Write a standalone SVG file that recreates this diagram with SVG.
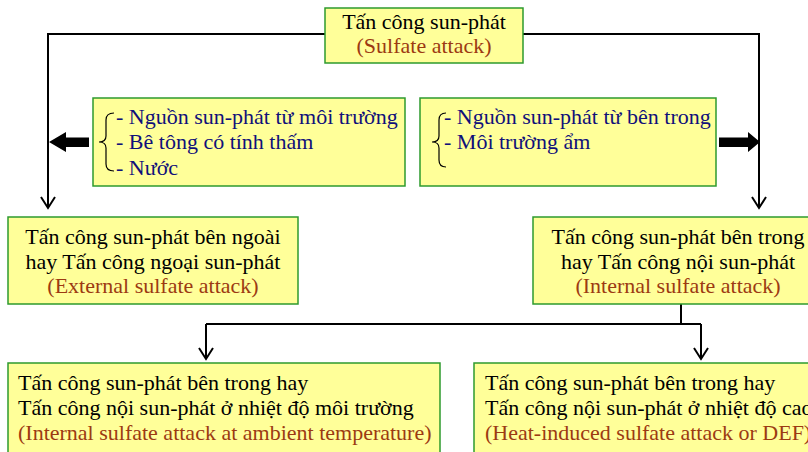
<svg xmlns="http://www.w3.org/2000/svg" width="808" height="452" viewBox="0 0 808 452">
<defs>
<style>
.box{fill:#FFFF99;stroke:#2E9A2E;stroke-width:1.5}
.t{font-family:"Liberation Serif","Times New Roman",serif;font-size:22px;fill:#000}
.c{text-anchor:middle}
.e{fill:#9C3A12}
.n{fill:#10107A}
.ln{fill:none;stroke:#000;stroke-width:2}
.br{fill:none;stroke:#000;stroke-width:1.2}
</style>
</defs>
<rect width="808" height="452" fill="#fff"/>
<g id="connectors">
<polyline class="ln" points="325,34 48,34 48,208"/>
<polyline class="ln" points="523,34 759,34 759,208"/>
<polyline class="ln" points="681,304 681,324"/>
<polyline class="ln" points="701,324 206,324"/>
<path class="ln" d="M206,324 V359 M701,324 V359"/>
<path d="M199,348 L206,359 L213,348 M694,348 L701,359 L708,348 M41,197 L48,208 L55,197 M752,197 L759,208 L766,197" fill="none" stroke="#000" stroke-width="2"/>
<polygon points="49,142 66,132 66,137.5 89,137.5 89,147 66,147 66,152" fill="#000"/>
<polygon points="760,142 748,132 748,137.5 719,137.5 719,147 748,147 748,152" fill="#000"/>
</g>
<g id="top">
<rect class="box" x="325" y="8" width="198" height="55"/>
<text class="t c" x="424" y="29">Tấn công sun-phát</text>
<text class="t c e" x="424" y="53">(Sulfate attack)</text>
</g>
<g id="ext-causes">
<rect class="box" x="93" y="98" width="312" height="88"/>
<path class="br" d="M114,113 Q106,113 106,120 V136 Q106,142 99,142 Q106,142 106,148 V164 Q106,171 114,171"/>
<text class="t n" x="116" y="124">- Nguồn sun-phát từ môi trường</text>
<text class="t n" x="116" y="149">- Bê tông có tính thấm</text>
<text class="t n" x="116" y="175">- Nước</text>
</g>
<g id="int-causes">
<rect class="box" x="420" y="98" width="296" height="88"/>
<path class="br" d="M446,113 Q439,113 439,120 V136 Q439,142 432,142 Q439,142 439,148 V160 Q439,167 446,167"/>
<text class="t n" x="444" y="124">- Nguồn sun-phát từ bên trong</text>
<text class="t n" x="444" y="149">- Môi trường ẩm</text>
</g>
<g id="external">
<rect class="box" x="8" y="217" width="290" height="87"/>
<text class="t c" x="153" y="244">Tấn công sun-phát bên ngoài</text>
<text class="t c" x="153" y="269">hay Tấn công ngoại sun-phát</text>
<text class="t c e" x="153" y="293">(External sulfate attack)</text>
</g>
<g id="internal">
<rect class="box" x="533" y="217" width="280" height="87"/>
<text class="t c" x="678" y="244">Tấn công sun-phát bên trong</text>
<text class="t c" x="678" y="269">hay Tấn công nội sun-phát</text>
<text class="t c e" x="678" y="293">(Internal sulfate attack)</text>
</g>
<g id="ambient">
<rect class="box" x="8" y="363" width="432" height="95"/>
<text class="t" x="18" y="390">Tấn công sun-phát bên trong hay</text>
<text class="t" x="18" y="415">Tấn công nội sun-phát ở nhiệt độ môi trường</text>
<text class="t e" x="18" y="440">(Internal sulfate attack at ambient temperature)</text>
</g>
<g id="heat">
<rect class="box" x="474" y="363" width="340" height="95"/>
<text class="t" x="485" y="390">Tấn công sun-phát bên trong hay</text>
<text class="t" x="485" y="415">Tấn công nội sun-phát ở nhiệt độ cao</text>
<text class="t e" x="485" y="440">(Heat-induced sulfate attack or DEF)</text>
</g>
</svg>
